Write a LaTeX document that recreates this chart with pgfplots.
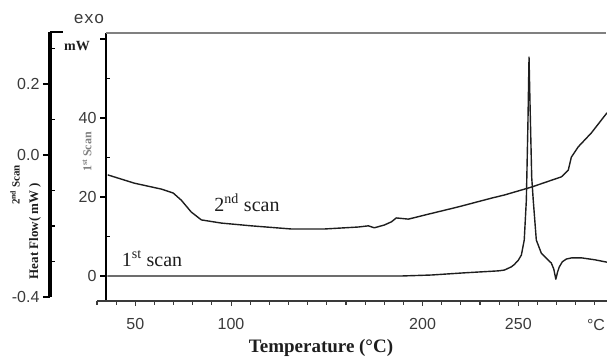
\documentclass[border=0pt]{standalone}
\usepackage{fontspec}
\setmainfont{Liberation Serif}
\setsansfont{Liberation Sans}
\setmonofont{Liberation Mono}
\usepackage{pgfplots}
\pgfplotsset{compat=1.18}
\definecolor{ink}{HTML}{1E1E1E}
\definecolor{tk}{HTML}{3A3A3A}

\pgfplotstableread{
T v
35.4 0
100 0
150 0
188.9 0
204.6 0.25
221.8 0.8
239.6 1.3
242.7 1.5
246.3 2.3
247.9 2.9
250.0 4.0
251.6 5.3
253.1 9.1
254.2 19.2
255.0 38
255.6 55.4
256.1 44
257.0 25
257.8 19.2
259.4 9.1
262.0 5.8
265.0 4.3
267.2 3.3
268.5 1.8
269.6 -0.8
270.5 1.0
271.4 2.3
273.0 3.6
275.1 4.3
278.0 4.6
282.9 4.6
290.0 4.1
296.3 3.5
}\firstscan

\pgfplotstableread{
T v
35.6 25.6
49.5 23.5
63.6 22.0
69.8 21.0
74.0 19.2
79.2 16.2
84.5 14.2
94.9 13.4
110.6 12.7
131.5 11.9
148.7 11.9
166.4 12.4
171.7 12.7
174.8 12.2
180.0 12.9
183.7 13.7
186.3 14.7
192.6 14.4
200.9 15.4
218.7 17.5
235.9 19.7
242.7 20.5
256.8 22.5
272.5 25.1
276.1 26.8
277.7 30.1
281.3 32.7
288.1 36.2
296.3 41.3
}\secondscan

\begin{document}
\begin{tikzpicture}
\useasboundingbox (0,0) rectangle (607pt,357pt);

% outer axis (2nd scan scale)
\begin{axis}[
  at={(50pt,60pt)}, anchor=south west,
  x=10pt, y=355pt, xmin=0, xmax=1, ymin=-0.4, ymax=0.346,
  axis y line*=left, axis x line=none,
  axis line style={line width=3pt, draw=black},
  xtick=\empty,
  ytick={-0.4,0,0.2}, yticklabels={-0.4,0.0,0.2},
  minor ytick={-0.3,-0.2,-0.1,0.1,0.3},
  tick align=outside, major tick length=7pt, minor tick length=3pt,
  major tick style={line width=1.8pt, black},
  minor tick style={line width=1.2pt, black, xshift=4.5pt},
  yticklabel style={font=\sffamily\fontsize{16}{16}\selectfont, text=tk},
  clip=false,
]
\draw[line width=1.8pt] (rel axis cs:0,1) -- ([xshift=13pt]rel axis cs:0,1);
\end{axis}

% inner axis (1st scan scale)
\begin{axis}[
  at={(106pt,56pt)}, anchor=south west,
  x=1.915pt, y=3.95pt, xmin=35.4, xmax=296.3, ymin=-6.33, ymax=61.5,
  axis y line*=left, axis x line=none,
  axis line style={line width=2.8pt, draw=black},
  xtick=\empty,
  ytick={0,20,40,60}, yticklabels={0,20,40,{}},
  minor ytick={10,30,50},
  tick align=outside, major tick length=6pt, minor tick length=3pt,
  major tick style={line width=1.2pt, black},
  minor tick style={line width=1.2pt, black, xshift=4.4pt},
  yticklabel style={font=\sffamily\fontsize{16}{16}\selectfont, text=tk},
  clip=false,
]
\draw[line width=1.7pt, gray] (rel axis cs:0,1) -- (rel axis cs:1,1);
\end{axis}

% main axis: temperature axis and curves
\begin{axis}[
  at={(97pt,56pt)}, anchor=south west,
  x=1.915pt, y=3.95pt, xmin=30, xmax=296.3, ymin=-6.33, ymax=61.5,
  axis x line*=bottom, axis y line=none,
  axis line style={line width=2pt, draw=tk},
  xtick={50,100,200,250}, xticklabels={50,100,200,250},
  minor xtick={30,40,...,290},
  ytick=\empty,
  tick align=outside, major tick length=5pt, minor tick length=3.5pt,
  major tick style={line width=1.1pt, tk},
  minor tick style={line width=1.1pt, tk},
  xticklabel style={font=\sffamily\fontsize{16}{16}\selectfont, text=tk, yshift=-9pt},
  clip=false,
]
\addplot[ink, line width=1.4pt, line join=round] table[x=T, y=v] {\firstscan};
\addplot[ink, line width=1.4pt, line join=round] table[x=T, y=v] {\secondscan};
\end{axis}

% texts
\node[font=\ttfamily\fontsize{17}{17}\selectfont, text=tk] at (89pt,338pt) {exo};
\node[font=\bfseries\fontsize{14}{14}\selectfont, text=ink] at (77pt,311pt) {mW};
\node[font=\bfseries\fontsize{12}{12}\selectfont, text=gray, rotate=90] at (87pt,205pt) {1\textsuperscript{st} Scan};
\node[font=\bfseries\fontsize{11}{11}\selectfont, text=ink, rotate=90] at (15pt,172pt) {2\textsuperscript{nd} Scan};
\node[font=\bfseries\fontsize{13}{13}\selectfont, text=ink, rotate=90] at (35pt,126pt) {Heat Flow( mW )};
\node[font=\fontsize{20}{20}\selectfont, text=ink, anchor=base] at (152pt,91pt) {1\textsuperscript{st} scan};
\node[font=\fontsize{20}{20}\selectfont, text=ink, anchor=base] at (247pt,146pt) {2\textsuperscript{nd} scan};
\node[font=\bfseries\fontsize{19}{19}\selectfont, text=ink, anchor=base] at (321pt,5pt) {Temperature (°C)};
\node[font=\sffamily\fontsize{16}{16}\selectfont, text=tk] at (596pt,32pt) {°C};
\end{tikzpicture}
\end{document}
